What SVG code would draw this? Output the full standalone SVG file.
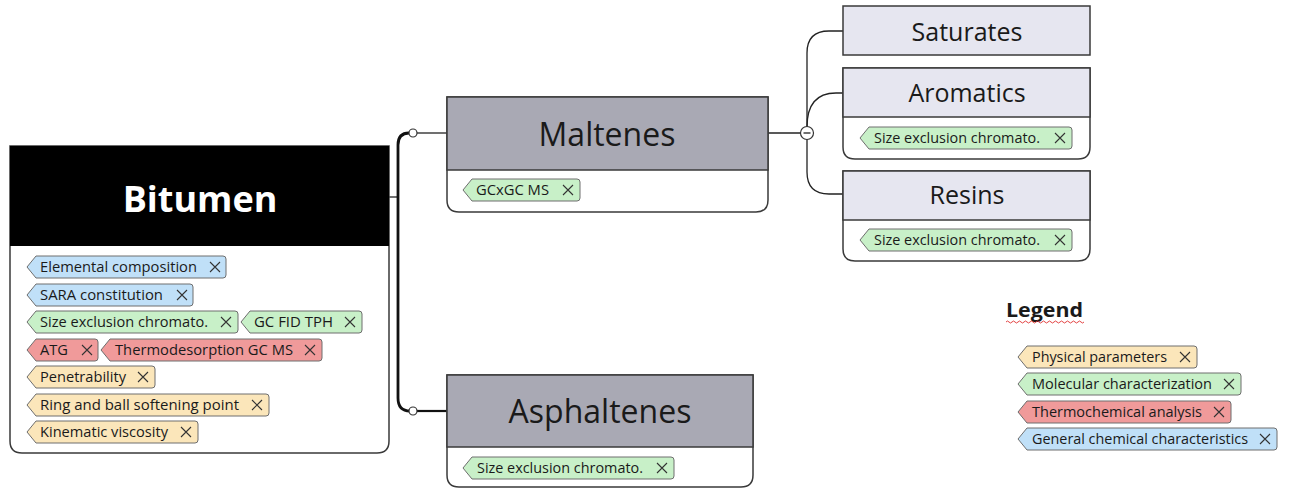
<svg xmlns="http://www.w3.org/2000/svg" width="1292" height="488" viewBox="0 0 1292 488">
<style>
.box{fill:#fff;stroke:#3a3a3a;stroke-width:1.5}
.hd1{fill:#a9a9b4;stroke:#3a3a3a;stroke-width:1.5}
.hd2{fill:#e6e6f0;stroke:#3a3a3a;stroke-width:1.5}
.t{font-family:"Open Sans","Noto Sans",sans-serif;fill:#1a1a1a}
.tg{font-family:"Open Sans","Noto Sans",sans-serif;font-size:14px;fill:#1a1a1a}
.blue{fill:#c0e0f8;stroke:#6e6e6e;stroke-width:1}
.green{fill:#c8f0c8;stroke:#6e6e6e;stroke-width:1}
.red{fill:#f09a9a;stroke:#6e6e6e;stroke-width:1}
.yel{fill:#fbe6ba;stroke:#6e6e6e;stroke-width:1}
.x{stroke:#333;stroke-width:1.1;fill:none}
.cn{fill:none;stroke:#222;stroke-width:1.3}
.cnb{fill:none;stroke:#111;stroke-width:2.8}
.dot{fill:#fff;stroke:#333;stroke-width:1.2}
</style>
<defs>
<path id="xx" d="M-5,-5 L5,5 M5,-5 L-5,5"/>
</defs>

<g id="connectors">
<line class="cn" x1="389" y1="197" x2="398" y2="197"/>
<path class="cnb" d="M409,133 Q398,133 398,145 V398 Q398,411 410,411"/>
<line class="cn" x1="417" y1="133" x2="447" y2="133"/>
<line class="cnb" x1="417" y1="411" x2="447" y2="411" style="stroke-width:2.2"/>
<circle class="dot" cx="413" cy="133" r="4"/>
<circle class="dot" cx="413" cy="411" r="4"/>
<line class="cn" x1="768" y1="133" x2="801" y2="133"/>
<path class="cn" d="M807,127 V53 Q807,31 829,31 H843"/>
<path class="cn" d="M807,127 C807,105 816,93 836,93 H843"/>
<path class="cn" d="M807,139 V172 Q807,194 829,194 H843"/>
<circle class="dot" cx="807" cy="133" r="6.5"/>
<line class="cn" x1="803.5" y1="133" x2="810.5" y2="133"/>
</g>

<g id="bitumen">
<path class="box" d="M10,146 H389 V441 Q389,453 377,453 H22 Q10,453 10,441 Z"/>
<rect x="10" y="146" width="379" height="100" fill="#000"/>
<text x="200" y="212" text-anchor="middle" font-family="'Open Sans','Noto Sans',sans-serif" font-weight="bold" font-size="36" fill="#fff">Bitumen</text>
<path class="blue" d="M36,256 H223 Q226,256 226,259 V275 Q226,278 223,278 H36 L27,267 Z"/>
<text class="tg" x="40" y="272" textLength="157" lengthAdjust="spacingAndGlyphs">Elemental composition</text>
<use href="#xx" class="x" x="215" y="267"/>
<path class="blue" d="M36,284 H190 Q193,284 193,287 V303 Q193,306 190,306 H36 L27,295 Z"/>
<text class="tg" x="40" y="300" textLength="123" lengthAdjust="spacingAndGlyphs">SARA constitution</text>
<use href="#xx" class="x" x="182" y="295"/>
<path class="green" d="M36,311 H235 Q238,311 238,314 V330 Q238,333 235,333 H36 L27,322 Z"/>
<text class="tg" x="40" y="327" textLength="168" lengthAdjust="spacingAndGlyphs">Size exclusion chromato.</text>
<use href="#xx" class="x" x="226" y="322"/>
<path class="green" d="M250,311 H359 Q362,311 362,314 V330 Q362,333 359,333 H250 L241,322 Z"/>
<text class="tg" x="254" y="327" textLength="79" lengthAdjust="spacingAndGlyphs">GC FID TPH</text>
<use href="#xx" class="x" x="350" y="322"/>
<path class="red" d="M36,339 H95 Q98,339 98,342 V358 Q98,361 95,361 H36 L27,350 Z"/>
<text class="tg" x="40" y="355" textLength="28" lengthAdjust="spacingAndGlyphs">ATG</text>
<use href="#xx" class="x" x="87" y="350"/>
<path class="red" d="M110,339 H319 Q322,339 322,342 V358 Q322,361 319,361 H110 L101,350 Z"/>
<text class="tg" x="115" y="355" textLength="178" lengthAdjust="spacingAndGlyphs">Thermodesorption GC MS</text>
<use href="#xx" class="x" x="310" y="350"/>
<path class="yel" d="M36,366 H152 Q155,366 155,369 V385 Q155,388 152,388 H36 L27,377 Z"/>
<text class="tg" x="40" y="382" textLength="86" lengthAdjust="spacingAndGlyphs">Penetrability</text>
<use href="#xx" class="x" x="143" y="377"/>
<path class="yel" d="M36,394 H266 Q269,394 269,397 V413 Q269,416 266,416 H36 L27,405 Z"/>
<text class="tg" x="40" y="410" textLength="199" lengthAdjust="spacingAndGlyphs">Ring and ball softening point</text>
<use href="#xx" class="x" x="257" y="405"/>
<path class="yel" d="M36,421 H195 Q198,421 198,424 V440 Q198,443 195,443 H36 L27,432 Z"/>
<text class="tg" x="40" y="437" textLength="128" lengthAdjust="spacingAndGlyphs">Kinematic viscosity</text>
<use href="#xx" class="x" x="186" y="432"/>
</g>

<g id="maltenes">
<path class="box" d="M447,97 H768 V200 Q768,212 756,212 H459 Q447,212 447,200 Z"/>
<rect class="hd1" x="447" y="97" width="321" height="73"/>
<text class="t" x="607" y="146" text-anchor="middle" font-size="32">Maltenes</text>
<path class="green" d="M472,179 H577 Q580,179 580,182 V198 Q580,201 577,201 H472 L463,190 Z"/>
<text class="tg" x="476" y="195" textLength="73" lengthAdjust="spacingAndGlyphs">GCxGC MS</text>
<use href="#xx" class="x" x="568" y="190"/>
</g>

<g id="asphaltenes">
<path class="box" d="M447,375 H753 V475 Q753,487 741,487 H459 Q447,487 447,475 Z"/>
<rect class="hd1" x="447" y="375" width="306" height="72"/>
<text class="t" x="600" y="423" text-anchor="middle" font-size="32">Asphaltenes</text>
<path class="green" d="M472,457 H671 Q674,457 674,460 V476 Q674,479 671,479 H472 L463,468 Z"/>
<text class="tg" x="477" y="473" textLength="166" lengthAdjust="spacingAndGlyphs">Size exclusion chromato.</text>
<use href="#xx" class="x" x="662" y="468"/>
</g>

<g id="saturates">
<rect class="hd2" x="843" y="6" width="247" height="49"/>
<text class="t" x="967" y="41" text-anchor="middle" font-size="25">Saturates</text>
</g>

<g id="aromatics">
<path class="box" d="M843,68 H1090 V147 Q1090,159 1078,159 H855 Q843,159 843,147 Z"/>
<rect class="hd2" x="843" y="68" width="247" height="49"/>
<text class="t" x="967" y="102" text-anchor="middle" font-size="25">Aromatics</text>
<path class="green" d="M869,127 H1069 Q1072,127 1072,130 V146 Q1072,149 1069,149 H869 L860,138 Z"/>
<text class="tg" x="874" y="143" textLength="166" lengthAdjust="spacingAndGlyphs">Size exclusion chromato.</text>
<use href="#xx" class="x" x="1060" y="138"/>
</g>

<g id="resins">
<path class="box" d="M843,171 H1090 V249 Q1090,261 1078,261 H855 Q843,261 843,249 Z"/>
<rect class="hd2" x="843" y="171" width="247" height="49"/>
<text class="t" x="967" y="204" text-anchor="middle" font-size="25">Resins</text>
<path class="green" d="M869,229 H1069 Q1072,229 1072,232 V248 Q1072,251 1069,251 H869 L860,240 Z"/>
<text class="tg" x="874" y="245" textLength="166" lengthAdjust="spacingAndGlyphs">Size exclusion chromato.</text>
<use href="#xx" class="x" x="1060" y="240"/>
</g>

<g id="legend">
<text class="t" x="1006" y="317" font-size="20" font-weight="bold" textLength="77" lengthAdjust="spacingAndGlyphs">Legend</text>
<path d="M1006,322 q1.5,-2 3,0 t3,0 t3,0 t3,0 t3,0 t3,0 t3,0 t3,0 t3,0 t3,0 t3,0 t3,0 t3,0 t3,0 t3,0 t3,0 t3,0 t3,0 t3,0 t3,0 t3,0 t3,0 t3,0 t3,0 t3,0 t3,0" fill="none" stroke="#e03030" stroke-width="0.9"/>
<path class="yel" d="M1027,346 H1194 Q1197,346 1197,349 V365 Q1197,368 1194,368 H1027 L1018,357 Z"/>
<text class="tg" x="1032" y="362" textLength="135" lengthAdjust="spacingAndGlyphs">Physical parameters</text>
<use href="#xx" class="x" x="1185" y="357"/>
<path class="green" d="M1027,373 H1238 Q1241,373 1241,376 V392 Q1241,395 1238,395 H1027 L1018,384 Z"/>
<text class="tg" x="1032" y="389" textLength="180" lengthAdjust="spacingAndGlyphs">Molecular characterization</text>
<use href="#xx" class="x" x="1229" y="384"/>
<path class="red" d="M1027,401 H1228 Q1231,401 1231,404 V420 Q1231,423 1228,423 H1027 L1018,412 Z"/>
<text class="tg" x="1032" y="417" textLength="170" lengthAdjust="spacingAndGlyphs">Thermochemical analysis</text>
<use href="#xx" class="x" x="1219" y="412"/>
<path class="blue" d="M1027,428 H1274 Q1277,428 1277,431 V447 Q1277,450 1274,450 H1027 L1018,439 Z"/>
<text class="tg" x="1032" y="444" textLength="216" lengthAdjust="spacingAndGlyphs">General chemical characteristics</text>
<use href="#xx" class="x" x="1265" y="439"/>
</g>
</svg>
